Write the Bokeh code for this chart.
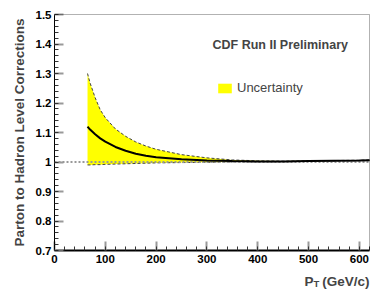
from bokeh.plotting import figure
from bokeh.models import (FixedTicker, Label, Legend, LegendItem, Range1d, BoxAnnotation)
from bokeh.embed import file_html
from bokeh.resources import INLINE

# ---- data ----
pt = [65, 70, 80, 90, 100, 120, 140, 160, 180, 200, 250, 300, 350, 400, 450, 500, 550, 600, 620]
central = [1.120, 1.110, 1.094, 1.080, 1.069, 1.051, 1.038, 1.028, 1.021, 1.016, 1.009, 1.005,
           1.003, 1.002, 1.002, 1.003, 1.004, 1.005, 1.006]
upper = [1.300, 1.268, 1.218, 1.177, 1.150, 1.112, 1.087, 1.068, 1.054, 1.043, 1.025, 1.014,
         1.007, 1.004, 1.003, 1.004, 1.005, 1.006, 1.007]
lower = [0.990, 0.990, 0.991, 0.991, 0.992, 0.993, 0.994, 0.995, 0.996, 0.997, 0.998, 0.999,
         1.000, 1.001, 1.001, 1.002, 1.003, 1.004, 1.005]
ref_level = 1.0

x_ticks = [0, 100, 200, 300, 400, 500, 600]
y_ticks = [0.7, 0.8, 0.9, 1.0, 1.1, 1.2, 1.3, 1.4, 1.5]
y_tick_labels = ["0.7", "0.8", "0.9", "1", "1.1", "1.2", "1.3", "1.4", "1.5"]
x_minor = [v * 20 for v in range(0, 32)]
y_minor = [round(0.7 + 0.02 * i, 2) for i in range(0, 41)]

X_START, X_END = 0, 620
Y_START, Y_END = 0.7, 1.5

FONT = "Liberation Sans"

W, H = 382, 294
LEFT, TOP, RIGHT, BOTTOM = 54, 14, 13, 44       # pixel layout of the axis box
pxx = (W - LEFT - RIGHT) / (X_END - X_START)
pxy = (H - TOP - BOTTOM) / (Y_END - Y_START)

p = figure(width=W, height=H, output_backend="svg", toolbar_location=None,
           x_range=Range1d(X_START - LEFT / pxx, X_END + RIGHT / pxx),
           y_range=Range1d(Y_START - BOTTOM / pxy, Y_END + TOP / pxy),
           min_border_left=0, min_border_top=0, min_border_right=0, min_border_bottom=0)
p.grid.visible = False
p.outline_line_color = None
p.background_fill_color = "white"
p.border_fill_color = "white"

# axis box
p.add_layout(BoxAnnotation(left=X_START, right=X_END, bottom=Y_START, top=Y_END,
                           fill_alpha=0, line_color="black", line_width=1))

# band
band = p.varea(x=pt, y1=lower, y2=upper, fill_color="#ffff00")
p.line(pt, upper, line_color="#444444", line_dash="3 2", line_width=1)
p.line(pt, lower, line_color="#444444", line_dash="3 2", line_width=1)
p.line([X_START, X_END], [ref_level, ref_level], line_color="#999999",
       line_dash="2 2", line_width=2)
p.line(pt, central, line_color="black", line_width=2)

# axes
for ax in (p.xaxis[0], p.yaxis[0]):
    ax.major_tick_in = 9
    ax.major_tick_out = 0
    ax.minor_tick_in = 4
    ax.minor_tick_out = 0
    ax.major_tick_line_color = "#999999"
    ax.major_tick_line_width = 2
    ax.minor_tick_line_color = "#333333"
    ax.axis_line_color = "black"
    ax.major_label_text_font = FONT
    ax.major_label_text_font_style = "bold"
    ax.major_label_text_font_size = "11.5px"
    ax.major_label_text_color = "black"

p.xaxis[0].ticker = FixedTicker(ticks=x_ticks, minor_ticks=x_minor)
p.yaxis[0].ticker = FixedTicker(ticks=y_ticks, minor_ticks=y_minor)
p.yaxis[0].major_label_overrides = {v: s for v, s in zip(y_ticks, y_tick_labels)}
p.yaxis[0].bounds = (Y_START, Y_END)
p.xaxis[0].bounds = (X_START, X_END)
p.xaxis[0].fixed_location = Y_START
p.yaxis[0].fixed_location = X_START
p.xaxis[0].axis_line_width = 2
p.yaxis[0].axis_line_width = 1
p.xaxis[0].major_label_standoff = 4
p.yaxis[0].major_label_standoff = 3
p.yaxis[0].major_label_text_baseline = "top"

p.yaxis[0].axis_label = "Parton to Hadron Level Corrections"
p.yaxis[0].axis_label_text_font = FONT
p.yaxis[0].axis_label_text_font_style = "bold"
p.yaxis[0].axis_label_text_font_size = "13.5px"
p.yaxis[0].axis_label_standoff = 6

# x title  P_T (GeV/c)
title_y = Y_END - (281 - TOP) / pxy
p.add_layout(Label(x=X_END, y=title_y, text="(GeV/c)", text_align="right",
                   text_font=FONT, text_font_style="bold", text_font_size="13.5px",
                   text_baseline="alphabetic"))
p.add_layout(Label(x=X_END, y=title_y, x_offset=-65, text="P", text_align="left",
                   text_font=FONT, text_font_style="bold", text_font_size="13.5px",
                   text_baseline="alphabetic"))
p.add_layout(Label(x=X_END, y=title_y, x_offset=-56, y_offset=-2, text="T", text_align="left",
                   text_font=FONT, text_font_style="bold", text_font_size="9.5px",
                   text_baseline="alphabetic"))

# CDF label
p.add_layout(Label(x=311, y=1.398, text="CDF Run II Preliminary", text_font=FONT,
                   text_font_style="bold", text_font_size="12.5px", text_baseline="alphabetic"))

# legend
legend = Legend(items=[LegendItem(label="Uncertainty", renderers=[band])],
                location=(216, H - 95), padding=0, margin=0, spacing=0,
                glyph_width=17, glyph_height=12, label_height=12, label_standoff=4,
                label_text_font=FONT, label_text_font_size="13px",
                border_line_alpha=0, background_fill_alpha=0)
p.add_layout(legend)

open("out.html", "w").write(file_html(p, INLINE))
